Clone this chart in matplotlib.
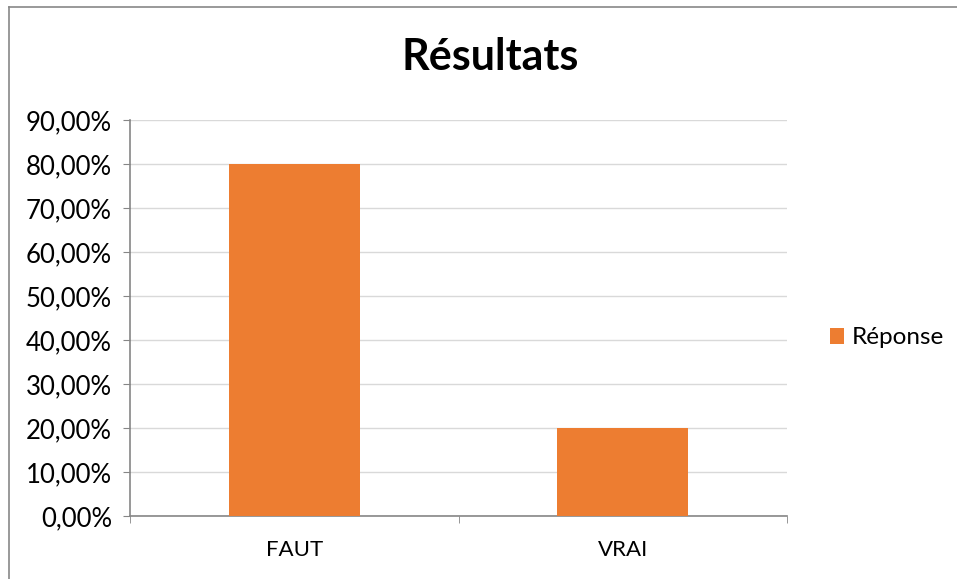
import matplotlib
matplotlib.use("Agg")
import matplotlib.pyplot as plt
from matplotlib.lines import Line2D
from matplotlib.ticker import FuncFormatter

categories = ["FAUT", "VRAI"]
reponse = [0.80, 0.20]
series_name = "Réponse"
title = "Résultats"

plt.rcParams['font.family'] = ['Lato', 'DejaVu Sans']

fig = plt.figure(figsize=(9.57, 5.79), dpi=100)
ax = fig.add_axes([130 / 957, 1 - 516 / 579, 657 / 957, 396 / 579])

x = list(range(len(categories)))
ax.bar(x, reponse, width=0.4, color="#ED7D31", label=series_name, zorder=3)

ax.set_xlim(-0.5, len(categories) - 0.5)
ax.set_ylim(0, 0.9)
ax.set_yticks([i / 10 for i in range(10)])
ax.yaxis.set_major_formatter(FuncFormatter(lambda v, p: f"{v * 100:.2f}%".replace(".", ",")))
ax.set_xticks(x)
ax.set_xticklabels(categories)
ax.set_xticks([-0.5, 0.5, 1.5], minor=True)

ax.grid(axis="y", color="#D9D9D9", linewidth=1, zorder=0)
for s in ["top", "right"]:
    ax.spines[s].set_visible(False)
for s in ["left", "bottom"]:
    ax.spines[s].set_color("#868686")
    ax.spines[s].set_linewidth(1.2)

ax.tick_params(axis="y", length=5, color="#868686", labelsize=18.5, pad=8)
ax.tick_params(axis="x", which="major", length=0, labelsize=16, pad=17)
ax.tick_params(axis="x", which="minor", length=5, color="#868686")

fig.text(490 / 957, 1 - 57 / 579, title, ha="center", va="center", fontsize=31, fontweight="bold")

ax.legend(loc="center left", bbox_to_anchor=(808 / 957, 1 - 338 / 579), bbox_transform=fig.transFigure,
          frameon=False, fontsize=17.5, handlelength=0.6, handleheight=0.6, handletextpad=0.3)

# bordure du graphique
fig.add_artist(Line2D([9 / 957, 9 / 957], [0, 1 - 7 / 579], transform=fig.transFigure, color="#888888", linewidth=1.2))
fig.add_artist(Line2D([9 / 957, 1], [1 - 7 / 579, 1 - 7 / 579], transform=fig.transFigure, color="#888888", linewidth=1.2))

fig.savefig("out.png", dpi=100)
